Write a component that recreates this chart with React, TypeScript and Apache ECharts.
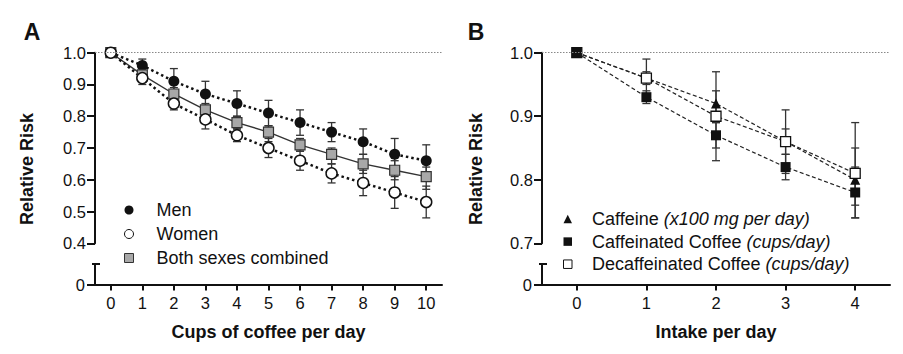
import React, { useEffect, useRef } from "react";
import * as echarts from "echarts";

// ---- Panel A data ----
const cupsX = [0, 1, 2, 3, 4, 5, 6, 7, 8, 9, 10];
const menRR = [1.0, 0.96, 0.91, 0.87, 0.84, 0.81, 0.78, 0.75, 0.72, 0.68, 0.66];
const menLo = [null, 0.94, 0.87, 0.83, 0.8, 0.77, 0.74, 0.72, 0.68, 0.63, 0.61];
const menHi = [null, 0.98, 0.95, 0.91, 0.88, 0.85, 0.82, 0.78, 0.76, 0.73, 0.71];
const womenRR = [1.0, 0.92, 0.84, 0.79, 0.74, 0.7, 0.66, 0.62, 0.59, 0.56, 0.53];
const womenLo = [null, 0.9, 0.82, 0.76, 0.72, 0.67, 0.63, 0.59, 0.55, 0.51, 0.48];
const womenHi = [null, 0.94, 0.86, 0.82, 0.76, 0.73, 0.69, 0.65, 0.63, 0.61, 0.58];
const bothRR = [1.0, 0.93, 0.87, 0.82, 0.78, 0.75, 0.71, 0.68, 0.65, 0.63, 0.61];
const bothLo = [null, 0.92, 0.85, 0.8, 0.76, 0.72, 0.69, 0.65, 0.62, 0.6, 0.57];
const bothHi = [null, 0.94, 0.89, 0.84, 0.8, 0.77, 0.73, 0.7, 0.68, 0.66, 0.64];
const yTicksA = [0.4, 0.5, 0.6, 0.7, 0.8, 0.9, 1.0];

// ---- Panel B data ----
const intakeX = [0, 1, 2, 3, 4];
const caffRR = [1.0, 0.96, 0.92, 0.86, 0.8];
const caffLo = [null, 0.95, 0.89, 0.84, 0.76];
const caffHi = [null, 0.97, 0.94, 0.88, 0.85];
const cafCoffeeRR = [1.0, 0.93, 0.87, 0.82, 0.78];
const cafCoffeeLo = [null, 0.92, 0.85, 0.8, 0.74];
const cafCoffeeHi = [null, 0.94, 0.89, 0.84, 0.82];
const decafRR = [1.0, 0.96, 0.9, 0.86, 0.81];
const decafLo = [null, 0.93, 0.83, 0.81, 0.74];
const decafHi = [null, 0.99, 0.97, 0.91, 0.89];
const yTicksB = [0.7, 0.8, 0.9, 1.0];

const legendSuffix: Record<string, string> = {
  "Caffeine": "(x100 mg per day)",
  "Caffeinated Coffee": "(cups/day)",
  "Decaffeinated Coffee": "(cups/day)",
};

const FONT = '"Liberation Sans", Arial, Helvetica, sans-serif';
const INK = "#111";

// layout
const W = 903;
const H = 354;
const A_LEFT = 95, A_RIGHT_EDGE = 442;
const B_LEFT = 542, B_RIGHT_EDGE = 890;
const UP_TOP = 52.7, UP_BOTTOM_Y = 243.3;
const LO_TOP = 264, LO_BOTTOM_Y = 284.5;

const pts = (xs: number[], ys: number[]) => xs.map((x, i) => [x, ys[i]]);
const bars = (xs: number[], lo: (number | null)[], hi: (number | null)[]) =>
  xs.map((x, i) => [x, lo[i], hi[i]]).filter((d) => d[1] != null);

function errorSeries(xi: number, data: any[]) {
  return {
    type: "custom",
    xAxisIndex: xi,
    yAxisIndex: xi,
    z: 1,
    silent: true,
    encode: { x: 0, y: [1, 2] },
    data,
    renderItem: (_p: any, api: any) => {
      const x = api.value(0);
      const a = api.coord([x, api.value(1)]);
      const b = api.coord([x, api.value(2)]);
      const c = 4;
      const style = { stroke: "#333", lineWidth: 1.3, fill: null };
      return {
        type: "group",
        children: [
          { type: "line", shape: { x1: a[0], y1: a[1], x2: b[0], y2: b[1] }, style },
          { type: "line", shape: { x1: a[0] - c, y1: a[1], x2: a[0] + c, y2: a[1] }, style },
          { type: "line", shape: { x1: b[0] - c, y1: b[1], x2: b[0] + c, y2: b[1] }, style },
        ],
      };
    },
  };
}

const axisLine = { show: true, onZero: false, lineStyle: { color: INK, width: 2 } };
const tickStyle = { color: INK, width: 2 };

function upperY(gridIndex: number, min: number, ticks: number[]) {
  return {
    type: "value",
    gridIndex,
    min,
    max: 1.0,
    axisLine,
    axisTick: { show: true, customValues: ticks, length: 8, lineStyle: tickStyle },
    axisLabel: {
      customValues: ticks,
      formatter: (v: number) => v.toFixed(1),
      margin: 9,
      fontSize: 16.5,
      color: INK,
      fontFamily: FONT,
    },
    splitLine: { show: false },
  };
}

function lowerY(gridIndex: number) {
  return {
    type: "value",
    gridIndex,
    min: 0,
    max: 1,
    axisLine,
    axisTick: { show: true, customValues: [0], length: 8, lineStyle: tickStyle },
    axisLabel: {
      customValues: [0],
      formatter: () => "0",
      margin: 10,
      fontSize: 16.5,
      color: INK,
      fontFamily: FONT,
    },
    splitLine: { show: false },
  };
}

function lowerX(gridIndex: number, max: number, ticks: number[], name: string) {
  return {
    type: "value",
    gridIndex,
    min: -0.5,
    max,
    axisLine,
    axisTick: { show: true, customValues: ticks, length: 6, lineStyle: tickStyle },
    axisLabel: {
      customValues: ticks,
      margin: 10,
      fontSize: 16.5,
      color: INK,
      fontFamily: FONT,
    },
    splitLine: { show: false },
    name,
    nameLocation: "middle",
    nameGap: 38,
    nameTextStyle: { fontSize: 18, fontWeight: "bold", color: INK, fontFamily: FONT },
  };
}

const refLine = {
  silent: true,
  symbol: ["none", "none"],
  label: { show: false },
  lineStyle: { type: [1.5, 1.5], color: "#888", width: 1 },
  data: [{ yAxis: 1.0 }],
};

export default function App() {
  const ref = useRef<HTMLDivElement>(null);
  useEffect(() => {
    document.body.style.margin = "0";
    const chart = echarts.init(ref.current!, null, { renderer: "svg" });
    const dotted = { type: [2.5, 3], width: 2.5, color: INK };
    const dashed = { type: [4, 2.5], width: 1.2, color: "#222" };
    const option: any = {
      animation: false,
      backgroundColor: "#fff",
      textStyle: { fontFamily: FONT, color: INK },
      grid: [
        { left: A_LEFT, right: W - A_RIGHT_EDGE, top: UP_TOP, bottom: H - UP_BOTTOM_Y },
        { left: A_LEFT, right: W - A_RIGHT_EDGE, top: LO_TOP, bottom: H - LO_BOTTOM_Y },
        { left: B_LEFT, right: W - B_RIGHT_EDGE, top: UP_TOP, bottom: H - UP_BOTTOM_Y },
        { left: B_LEFT, right: W - B_RIGHT_EDGE, top: LO_TOP, bottom: H - LO_BOTTOM_Y },
      ],
      xAxis: [
        { type: "value", gridIndex: 0, min: -0.5, max: 10.5, show: false },
        lowerX(1, 10.5, cupsX, "Cups of coffee per day"),
        { type: "value", gridIndex: 2, min: -0.5, max: 4.5, show: false },
        lowerX(3, 4.5, intakeX, "Intake per day"),
      ],
      yAxis: [upperY(0, 0.4, yTicksA), lowerY(1), upperY(2, 0.7, yTicksB), lowerY(3)],
      legend: [
        {
          data: [
            { name: "Men", icon: "circle" },
            { name: "Women", icon: "circle", itemStyle: { borderWidth: 1 } },
            { name: "Both sexes combined", icon: "rect", itemStyle: { borderWidth: 1 } },
          ],
          orient: "vertical",
          left: 124,
          top: 200,
          padding: 0,
          itemWidth: 9,
          itemHeight: 9,
          itemGap: 4,
          selectedMode: false,
          formatter: (name: string) => `{t|${name}}`,
          textStyle: {
            fontSize: 18,
            lineHeight: 20,
            color: INK,
            fontFamily: FONT,
            rich: { t: { fontSize: 18, color: INK, fontFamily: FONT, padding: [0, 0, 0, 18] } },
          },
        },
        {
          data: [
            { name: "Caffeine", icon: "triangle" },
            { name: "Caffeinated Coffee", icon: "rect" },
            { name: "Decaffeinated Coffee", icon: "rect", itemStyle: { borderWidth: 1 } },
          ],
          orient: "vertical",
          left: 563,
          top: 209,
          padding: 0,
          itemWidth: 8.5,
          itemHeight: 8.5,
          itemGap: 2.6,
          selectedMode: false,
          formatter: (name: string) => `{t|${name}} {i|${legendSuffix[name]}}`,
          textStyle: {
            fontSize: 18,
            lineHeight: 20,
            color: INK,
            fontFamily: FONT,
            rich: {
              t: { fontSize: 18, color: INK, fontFamily: FONT, padding: [0, 0, 0, 15] },
              i: { fontStyle: "italic", fontSize: 18, color: INK, fontFamily: FONT },
            },
          },
        },
      ],
      series: [
        errorSeries(0, bars(cupsX, menLo, menHi)),
        errorSeries(0, bars(cupsX, womenLo, womenHi)),
        errorSeries(0, bars(cupsX, bothLo, bothHi)),
        {
          name: "Men",
          type: "line",
          xAxisIndex: 0,
          yAxisIndex: 0,
          data: pts(cupsX, menRR),
          symbol: "circle",
          symbolSize: 11,
          itemStyle: { color: INK, borderColor: INK, borderWidth: 0 },
          lineStyle: dotted,
          markLine: refLine,
        },
        {
          name: "Both sexes combined",
          type: "line",
          xAxisIndex: 0,
          yAxisIndex: 0,
          data: pts(cupsX, bothRR),
          symbol: "rect",
          symbolSize: 10,
          itemStyle: { color: "#a8a8a8", borderColor: "#333", borderWidth: 1.2 },
          lineStyle: { width: 1.4, color: "#333" },
        },
        {
          name: "Women",
          type: "line",
          xAxisIndex: 0,
          yAxisIndex: 0,
          data: pts(cupsX, womenRR),
          symbol: "circle",
          symbolSize: 11,
          itemStyle: { color: "#fff", borderColor: INK, borderWidth: 1.5 },
          lineStyle: dotted,
        },
        errorSeries(2, bars(intakeX, caffLo, caffHi)),
        errorSeries(2, bars(intakeX, cafCoffeeLo, cafCoffeeHi)),
        errorSeries(2, bars(intakeX, decafLo, decafHi)),
        {
          name: "Caffeine",
          type: "line",
          xAxisIndex: 2,
          yAxisIndex: 2,
          data: pts(intakeX, caffRR),
          symbol: "triangle",
          symbolSize: 10,
          itemStyle: { color: INK },
          lineStyle: dashed,
          markLine: refLine,
        },
        {
          name: "Decaffeinated Coffee",
          type: "line",
          xAxisIndex: 2,
          yAxisIndex: 2,
          data: pts(intakeX, decafRR),
          symbol: "rect",
          symbolSize: 10,
          itemStyle: { color: "#fff", borderColor: INK, borderWidth: 1.3 },
          lineStyle: dashed,
        },
        {
          name: "Caffeinated Coffee",
          type: "line",
          xAxisIndex: 2,
          yAxisIndex: 2,
          data: pts(intakeX, cafCoffeeRR),
          symbol: "rect",
          symbolSize: 10,
          itemStyle: { color: INK },
          lineStyle: dashed,
        },
      ],
      graphic: [
        {
          type: "text",
          x: 32,
          y: 32,
          style: { text: "A", fill: INK, font: `bold 23px ${FONT}`, align: "center", verticalAlign: "middle" },
        },
        {
          type: "text",
          x: 476,
          y: 32,
          style: { text: "B", fill: INK, font: `bold 23px ${FONT}`, align: "center", verticalAlign: "middle" },
        },
        {
          type: "text",
          x: 27,
          y: 169,
          rotation: Math.PI / 2,
          style: { text: "Relative Risk", fill: INK, font: `bold 18px ${FONT}`, align: "center", verticalAlign: "middle" },
        },
        {
          type: "text",
          x: 475.5,
          y: 169,
          rotation: Math.PI / 2,
          style: { text: "Relative Risk", fill: INK, font: `bold 18px ${FONT}`, align: "center", verticalAlign: "middle" },
        },
        {
          type: "line",
          shape: { x1: A_LEFT - 3, y1: LO_TOP, x2: A_LEFT + 5, y2: LO_TOP },
          style: { stroke: INK, lineWidth: 2 },
        },
        {
          type: "line",
          shape: { x1: B_LEFT - 3, y1: LO_TOP, x2: B_LEFT + 5, y2: LO_TOP },
          style: { stroke: INK, lineWidth: 2 },
        },
      ],
    };
    chart.setOption(option);
    return () => chart.dispose();
  }, []);
  return (
    <div
      ref={ref}
      style={{ position: "fixed", left: 0, top: 0, width: W, height: H, background: "#fff" }}
    />
  );
}
